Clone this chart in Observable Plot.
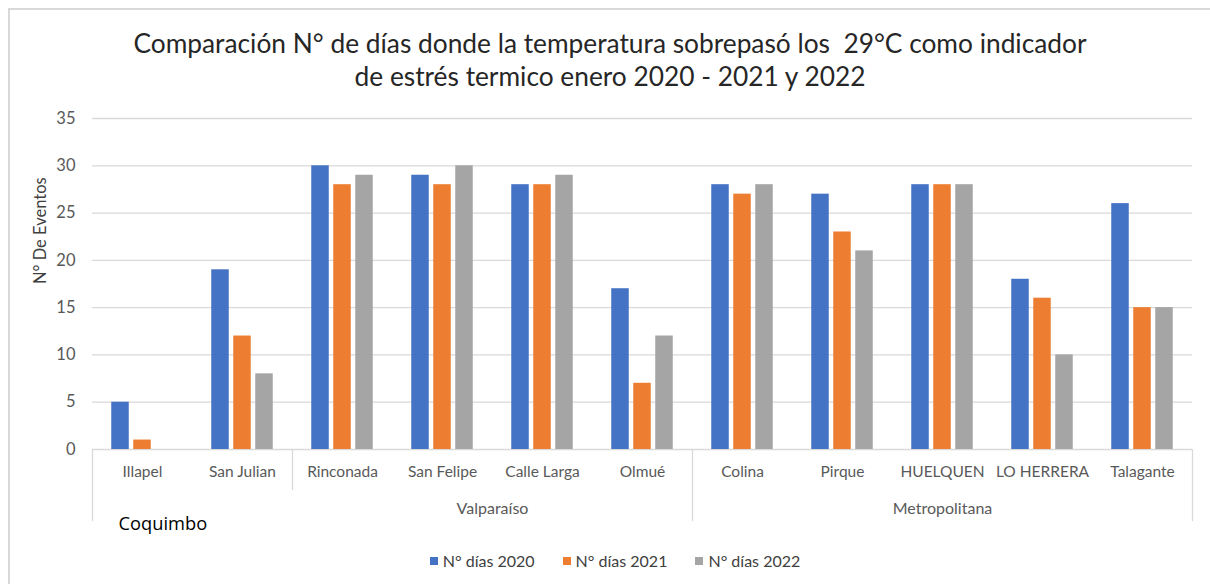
<!DOCTYPE html>
<html>
<head>
<meta charset="utf-8">
<script src="https://cdn.jsdelivr.net/npm/d3@7"></script>
<script src="https://cdn.jsdelivr.net/npm/@observablehq/plot@0.6"></script>
<style>
  html, body { margin: 0; padding: 0; background: #fff; }
  #wrap { position: relative; width: 1210px; height: 584px; overflow: hidden; font-family: Lato, "Open Sans", sans-serif; }
  #frame { position: absolute; left: 8px; top: 8px; width: 1220px; height: 600px; border-left: 2px solid #d9d9d9; border-top: 2px solid #d9d9d9; }
  #title { position: absolute; left: 0; top: 27px; width: 1220px; text-align: center; font-size: 26.3px; line-height: 33px; color: #262626; white-space: pre; }
  #chart { position: absolute; left: 0; top: 100px; }
  #legend { position: absolute; left: 0; top: 551px; width: 1230px; display: flex; justify-content: center; gap: 28px; font-size: 16px; color: #404040; }
  #legend .item { display: flex; align-items: center; }
  #legend .sw { width: 8px; height: 8px; margin-right: 5px; display: inline-block; }
</style>
</head>
<body>
<div id="wrap">
  <div id="frame"></div>
  <div id="title"></div>
  <div id="chart"></div>
  <div id="legend"></div>
</div>
<script>
// ---- data ----
const titleLines = [
  "Comparación N° de días donde la temperatura sobrepasó los  29°C como indicador",
  "de estrés termico enero 2020 - 2021 y 2022"
];
const cities = ["Illapel", "San Julian", "Rinconada", "San Felipe", "Calle Larga", "Olmué",
                "Colina", "Pirque", "HUELQUEN", "LO HERRERA", "Talagante"];
const regions = ["Coquimbo", "Coquimbo", "Valparaíso", "Valparaíso", "Valparaíso", "Valparaíso",
                 "Metropolitana", "Metropolitana", "Metropolitana", "Metropolitana", "Metropolitana"];
const series = ["N° días 2020", "N° días 2021", "N° días 2022"];
const dias2020 = [5, 19, 30, 29, 28, 17, 28, 27, 28, 18, 26];
const dias2021 = [1, 12, 28, 28, 28, 7, 27, 23, 28, 16, 15];
const dias2022 = [0, 8, 29, 30, 29, 12, 28, 21, 28, 10, 15];
const yTicks = [0, 5, 10, 15, 20, 25, 30, 35];
const yLabel = "N° De Eventos";
const colors = ["#4472C4", "#ED7D31", "#A5A5A5"];

// ---- build table ----
const values = [dias2020, dias2021, dias2022];
const data = [];
series.forEach((s, i) => cities.forEach((c, j) => data.push({city: c, region: regions[j], series: s, value: values[i][j]})));

const titleEl = document.getElementById("title");
titleEl.textContent = titleLines.join("\n");

const W = 1210, H = 440, mL = 92, mR = 18, mT = 18, mB = 91;
const band = (W - mL - mR) / cities.length;       // width of one category
const barW = 17.5, step = 22;
const inset = (band - barW) / 2;
const unit = (H - mT - mB) / 35;                  // px per y unit
const longDrop = -72 / unit, shortDrop = -41 / unit;

// region boundaries
const firstOf = cities.filter((c, j) => j === 0 || regions[j] !== regions[j - 1]);
const longStarts = firstOf.filter(c => regions[cities.indexOf(c)] !== "Valparaíso");
const shortStarts = firstOf.filter(c => regions[cities.indexOf(c)] === "Valparaíso");
const lastCity = [cities[cities.length - 1]];

const lineColor = "#d9d9d9";
const lblFont = 15.5;

const marks = [
  Plot.ruleY(yTicks, {stroke: lineColor, strokeWidth: 1.3}),
  ...series.map((s, i) => Plot.barY(data.filter(d => d.series === s), {
    x: "city", y: "value", fill: "series", dx: (i - 1) * step, insetLeft: inset, insetRight: inset
  })),
  Plot.ruleX(longStarts, {x: d => d, dx: -band / 2, y1: 0, y2: longDrop, stroke: lineColor, strokeWidth: 1.3}),
  Plot.ruleX(shortStarts, {x: d => d, dx: -band / 2, y1: 0, y2: shortDrop, stroke: lineColor, strokeWidth: 1.3}),
  Plot.ruleX(lastCity, {x: d => d, dx: band / 2, y1: 0, y2: longDrop, stroke: lineColor, strokeWidth: 1.3}),
  Plot.axisX({tickSize: 0, tickPadding: 16, fontSize: lblFont, fill: "#595959", label: null, fontFamily: "Lato"}),
  Plot.axisY({ticks: yTicks, tickSize: 0, tickPadding: 17, fontSize: 16.5, fill: "#595959", label: null, fontFamily: "Lato"}),
  Plot.text([yLabel], {frameAnchor: "left", rotate: -90, dx: -52, fontSize: 16.5, fill: "#404040", fontFamily: "Lato"}),
  // region labels
  Plot.text(["Valparaíso"], {x: () => cities[4], y: 0, dx: -band / 2, dy: 59, fontSize: 16, fill: "#595959", fontFamily: "Lato"}),
  Plot.text(["Metropolitana"], {x: () => cities[8], y: 0, dy: 59, fontSize: 16, fill: "#595959", fontFamily: "Lato"}),
  Plot.text(["Coquimbo"], {x: () => cities[0], y: 0, dx: -24, dy: 75, textAnchor: "start", fontSize: 18.3, fill: "#000", fontFamily: "Open Sans"})
];

const plot = Plot.plot({
  width: W, height: H,
  marginLeft: mL, marginRight: mR, marginTop: mT, marginBottom: mB,
  x: {type: "band", domain: cities, padding: 0, axis: null},
  y: {domain: [0, 35], axis: null},
  color: {domain: series, range: colors},
  style: {fontFamily: "Lato", background: "transparent", overflow: "visible"},
  marks
});
document.getElementById("chart").appendChild(plot);

// legend
const leg = document.getElementById("legend");
series.forEach((s, i) => {
  const it = document.createElement("div");
  it.className = "item";
  it.innerHTML = `<span class="sw" style="background:${colors[i]}"></span><span>${s}</span>`;
  leg.appendChild(it);
});
</script>
</body>
</html>
